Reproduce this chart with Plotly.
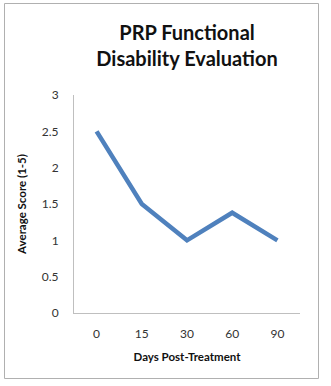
import plotly.graph_objects as go

days = ["0", "15", "30", "60", "90"]
scores = [2.5, 1.5, 1.0, 1.38, 1.0]
y_ticks = [0, 0.5, 1, 1.5, 2, 2.5, 3]
y_tick_labels = ["0", "0.5", "1", "1.5", "2", "2.5", "3"]

L, R, T, B = 74, 31, 95, 73
W, H = 331, 386
pw, ph = W - L - R, H - T - B

def px(x):
    return (x - L) / pw

def py(y):
    return (H - B - y) / ph

fig = go.Figure()
fig.add_trace(go.Scatter(x=days, y=scores, mode="lines",
                         line=dict(color="#4f81bd", width=4.5), hoverinfo="skip"))

font = "Lato, 'Open Sans', sans-serif"
fig.update_layout(
    width=W, height=H,
    margin=dict(l=L, r=R, t=T, b=B),
    paper_bgcolor="white", plot_bgcolor="white",
    showlegend=False,
    title=dict(text="<b>PRP Functional<br>Disability Evaluation</b>",
               x=0.5, xanchor="center", xref="paper",
               y=(H - 40) / H, yanchor="middle",
               font=dict(family=font, size=20, color="#111111")),
    xaxis=dict(type="category", range=[-0.5, 4.5], showgrid=False, showline=True,
               linecolor="#bfbfbf", linewidth=1, ticks="",
               tickfont=dict(family=font, size=12, color="#333333"),
               ticklabelstandoff=10,
               title=dict(text="<b>Days Post-Treatment</b>", standoff=12,
                          font=dict(family=font, size=11.5, color="#111111"))),
    yaxis=dict(range=[0, 3], tickvals=y_ticks, ticktext=y_tick_labels, showgrid=False,
               showline=True, linecolor="#bfbfbf", linewidth=1, ticks="",
               zeroline=False, ticklabelstandoff=12,
               tickfont=dict(family=font, size=12, color="#333333"),
               title=dict(text="<b>Average Score (1-5)</b>", standoff=12,
                          font=dict(family=font, size=11.5, color="#111111"))),
)

fig.add_shape(type="rect", xref="paper", yref="paper",
              x0=px(4.5), x1=px(318.5), y0=py(378.5), y1=py(3.5),
              line=dict(color="#b0b0b0", width=1), fillcolor="rgba(0,0,0,0)", layer="below")

fig.write_html("out.html")
